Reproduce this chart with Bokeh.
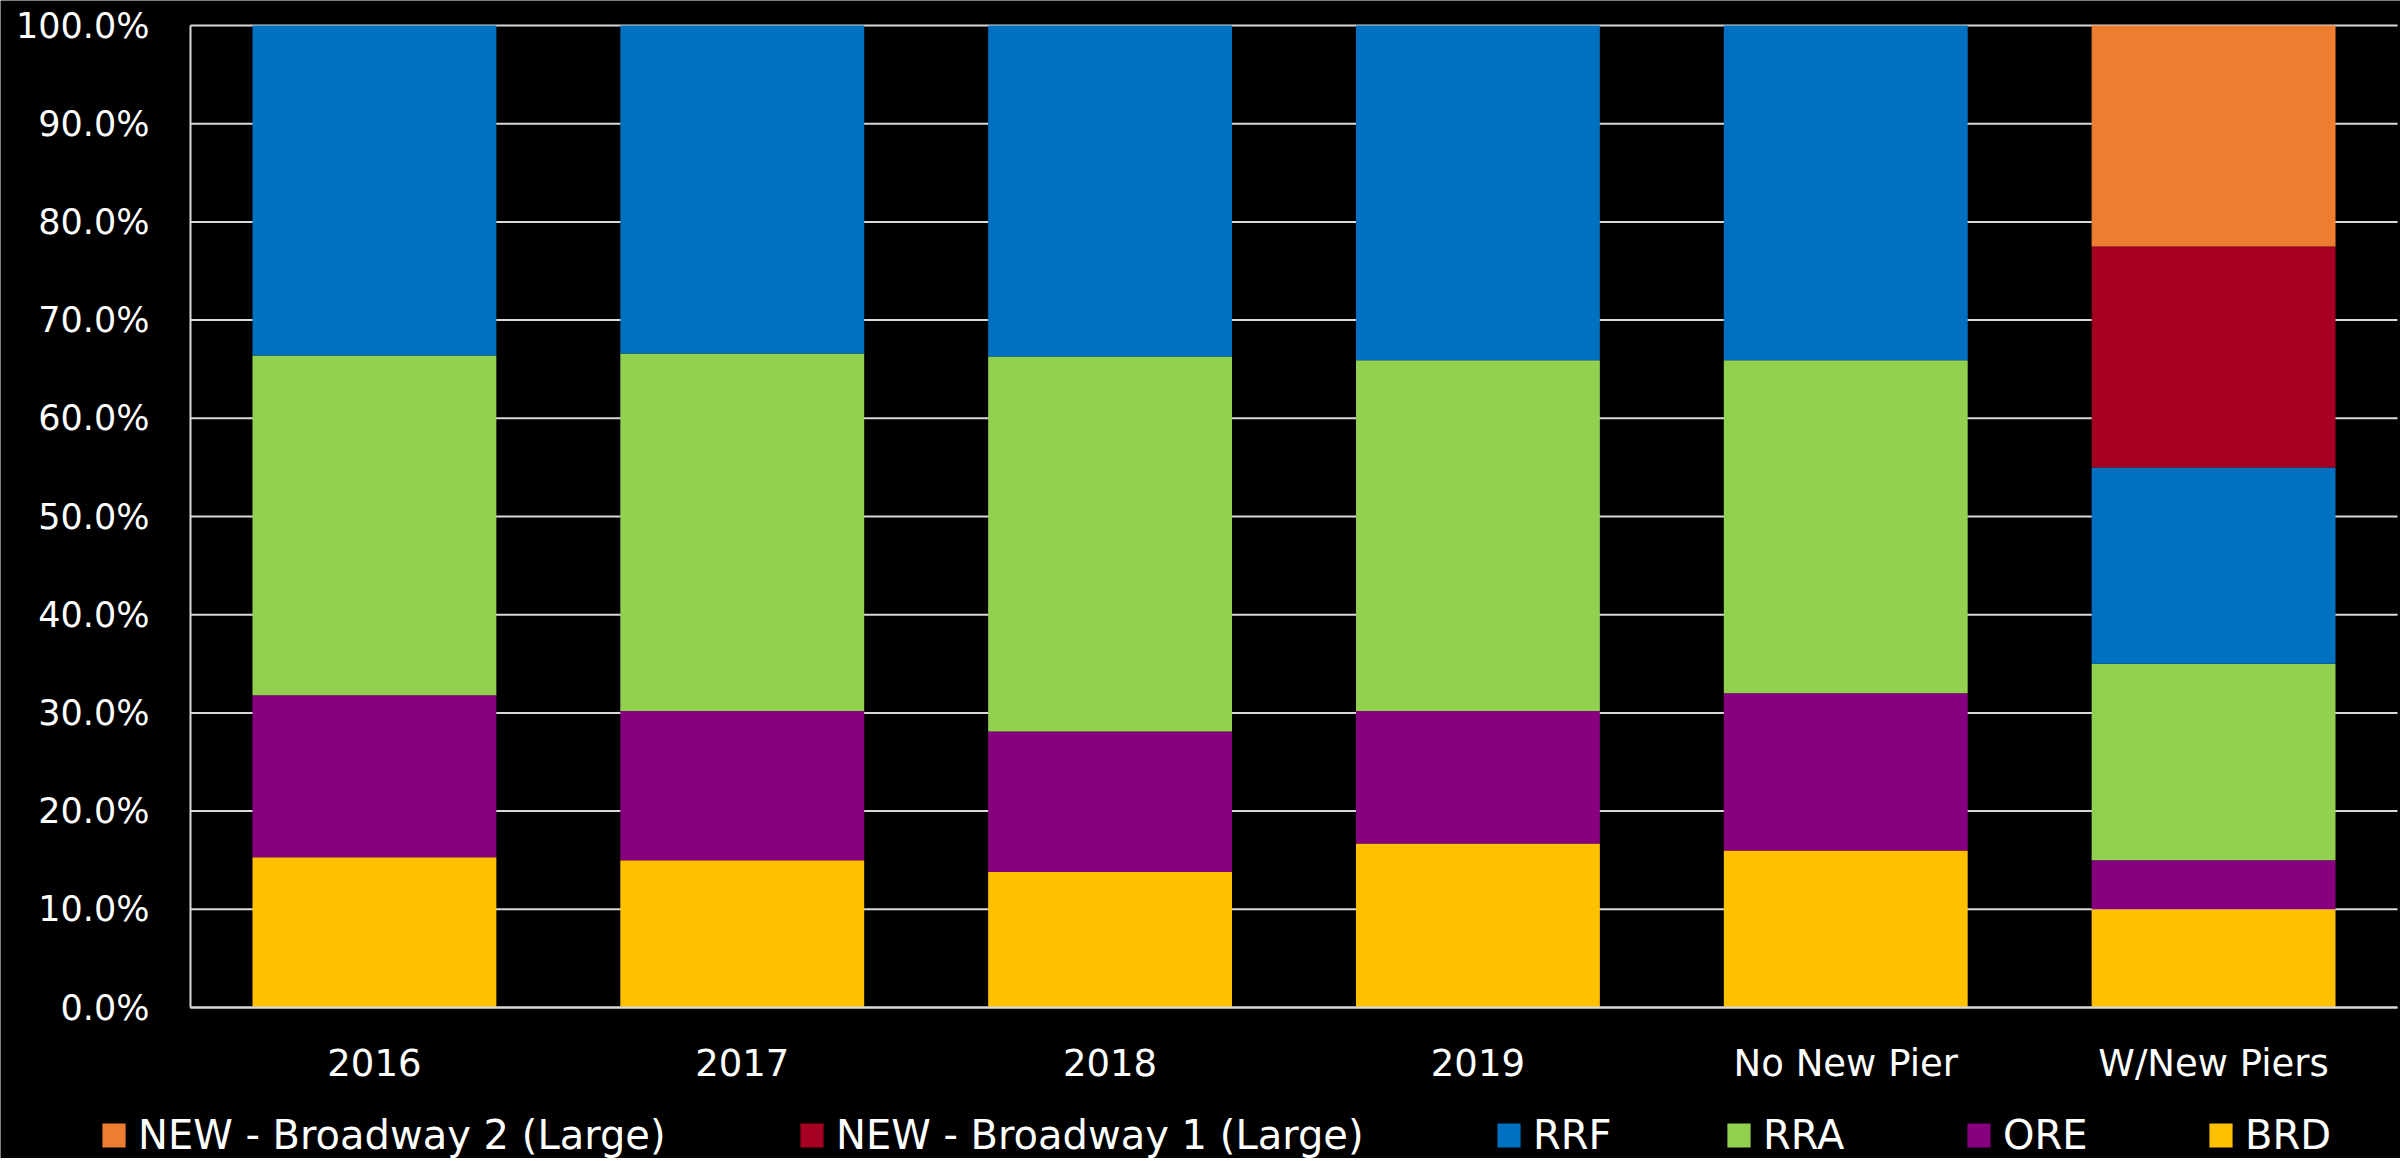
from bokeh.plotting import figure
from bokeh.models import (ColumnDataSource, Legend, LegendItem, NumeralTickFormatter,
                          FixedTicker, Range1d, LinearAxis)
from bokeh.embed import file_html
from bokeh.resources import INLINE

categories = ["2016", "2017", "2018", "2019", "No New Pier", "W/New Piers"]
BRD = [15.3, 15.0, 13.8, 16.7, 16.0, 10.0]
ORE = [16.5, 15.2, 14.3, 13.5, 16.0, 5.0]
RRA = [34.6, 36.4, 38.2, 35.7, 33.9, 20.0]
RRF = [33.6, 33.4, 33.7, 34.1, 34.1, 20.0]
NEW_B1 = [0, 0, 0, 0, 0, 22.5]
NEW_B2 = [0, 0, 0, 0, 0, 22.5]
y_ticks = [i / 10 for i in range(11)]

series_keys = ["BRD", "ORE", "RRA", "RRF", "NEW_B1", "NEW_B2"]
series_vals = [BRD, ORE, RRA, RRF, NEW_B1, NEW_B2]
series_labels = ["BRD", "ORE", "RRA", "RRF", "NEW - Broadway 1 (Large)", "NEW - Broadway 2 (Large)"]
colors = ["#FFC000", "#870080", "#92D050", "#0070C0", "#A50021", "#ED7D31"]

n = len(categories)
xpos = [i + 0.5 for i in range(n)]
data = {"x": xpos, "cat": categories}
for k, v in zip(series_keys, series_vals):
    data[k] = [x / 100.0 for x in v]
src = ColumnDataSource(data)

FONT = "DejaVu Sans"
W, H = 2400, 1158
# pixel layout of the plotting area inside the canvas
L, R, T, B = 190, 2397, 25, 1007
cat_px = (R - L) / n
val_px = (B - T)

p = figure(width=W, height=H, output_backend="svg", toolbar_location=None,
           x_range=Range1d(-L / cat_px, (W - L) / cat_px),
           y_range=Range1d(-(H - B) / val_px, 1 + T / val_px),
           background_fill_color="black", border_fill_color="black",
           min_border=0, x_axis_type=None, y_axis_type=None)
p.outline_line_color = None
p.xgrid.visible = False
p.ygrid.visible = False

# horizontal gridlines over the category span
p.segment(x0=0, x1=n, y0=y_ticks, y1=y_ticks, line_color="#D9D9D9", line_width=2)

renderers = p.vbar_stack(series_keys, x="x", width=0.663, source=src,
                         color=colors, line_color=None)

yax = LinearAxis(fixed_location=0, bounds=(0, 1), ticker=FixedTicker(ticks=y_ticks),
                 formatter=NumeralTickFormatter(format="0.0%"))
xax = LinearAxis(fixed_location=0, bounds=(0, n), ticker=FixedTicker(ticks=xpos),
                 major_label_overrides={x: c for x, c in zip(xpos, categories)})
for ax in (xax, yax):
    ax.major_label_text_color = "white"
    ax.major_label_text_font = FONT
    ax.major_tick_line_color = None
    ax.minor_tick_line_color = None
    ax.axis_line_color = "#D9D9D9"
    ax.axis_line_width = 2
yax.major_label_text_font_size = "35px"
xax.major_label_text_font_size = "37px"
yax.major_label_standoff = 35
xax.major_label_standoff = 28
p.add_layout(yax, "left")
p.add_layout(xax, "below")

order = [5, 4, 3, 2, 1, 0]
leg_x = [99, 797, 1494, 1724, 1964, 2206]
for idx, xo in zip(order, leg_x):
    leg = Legend(items=[LegendItem(label=series_labels[idx], renderers=[renderers[idx]])],
                 location=(xo, 0), orientation="horizontal",
                 background_fill_alpha=0, border_line_color=None,
                 label_text_color="white", label_text_font=FONT,
                 label_text_font_size="40px", glyph_width=29, glyph_height=30,
                 label_standoff=10, padding=0, margin=0, spacing=0)
    p.add_layout(leg, "center")

open("out.html", "w").write(file_html(p, INLINE))
